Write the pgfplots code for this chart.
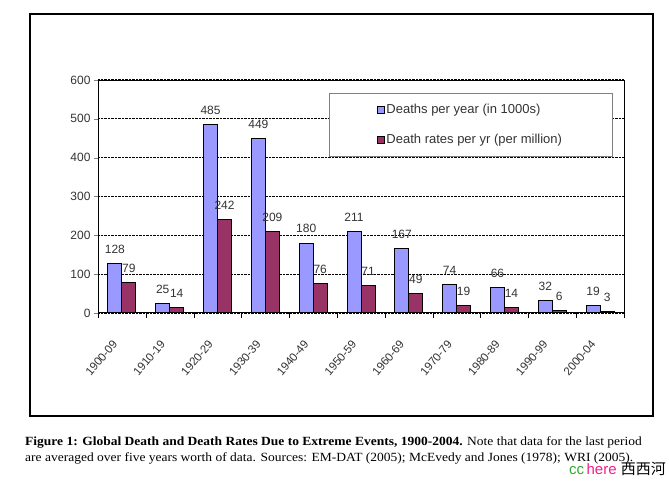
\documentclass[border=0pt]{standalone}
\usepackage{pgfplots}
\pgfplotsset{compat=1.18}
\usepackage{fontspec}
\setmainfont{Liberation Sans}
\newfontfamily\capfont[FakeStretch=1.08]{Liberation Serif}
\newfontfamily\cjk{Noto Sans CJK SC}
\definecolor{barblue}{HTML}{9999FF}
\definecolor{barred}{HTML}{993366}
\definecolor{txt}{HTML}{333333}
\begin{document}
\begin{tikzpicture}[x=1pt,y=1pt]
\useasboundingbox (0,0) rectangle (669,484);
\draw[line width=1.8pt] (30,470) rectangle (653,68);
\begin{axis}[
  at={(98pt,171pt)}, anchor=south west,
  scale only axis, width=526pt, height=233pt,
  ybar=0pt, bar width=14pt,
  xmin=-0.5, xmax=10.5, ymin=0, ymax=600,
  ytick={0,100,...,600},
  xtick={0,...,10},
  xticklabels={1900-09,1910-19,1920-29,1930-39,1940-49,1950-59,1960-69,1970-79,1980-89,1990-99,2000-04},
  minor xtick={-0.5,0.5,...,10.5},
  major x tick style={draw=none},
  minor x tick style={black},
  tick align=outside, major tick length=4pt, minor tick length=5pt,
  ytick pos=left, xtick pos=bottom,
  ymajorgrids, grid style={black, densely dotted, line width=1.2pt},
  axis line style={black, line width=1pt},
  ticklabel style={font=\fontsize{12}{14}\selectfont, text=txt},
  /pgf/number format/assume math mode=true,
  x tick label style={rotate=50, anchor=north east, font=\fontsize{11.5}{13}\selectfont, xshift=-20pt, yshift=-3pt},
  nodes near coords,
  every node near coord/.append style={font=\fontsize{12}{14}\selectfont, text=txt, inner sep=1.5pt, yshift=8pt},
  legend style={at={(0.978,0.944)}, anchor=north east, draw=gray, line width=0.8pt,
    font=\fontsize{13}{15}\selectfont, text=txt, inner xsep=48pt, inner ysep=9pt,
    row sep=15pt, legend cell align=left},
  legend image code/.code={\draw[#1, draw=black, line width=0.5pt] (0pt,-3.5pt) rectangle (7pt,3.5pt);},
]
\addplot[fill=barblue, draw=black, line width=1pt] coordinates {(0,128) (1,25) (2,485) (3,449) (4,180) (5,211) (6,167) (7,74) (8,66) (9,32) (10,19)};
\addplot[fill=barred, draw=black, line width=1pt] coordinates {(0,79) (1,14) (2,242) (3,209) (4,76) (5,71) (6,49) (7,19) (8,14) (9,6) (10,3)};
\legend{Deaths per year (in 1000s), Death rates per yr (per million)}
\end{axis}
\node[anchor=base west, inner sep=0pt, font=\capfont\fontsize{12.5}{14}\selectfont] at (25,38)
  {\textbf{Figure 1: Global Death and Death Rates Due to Extreme Events, 1900-2004.} Note that data for the last period};
\node[anchor=base west, inner sep=0pt, font=\capfont\fontsize{12.5}{14}\selectfont] at (25,22)
  {are averaged over five years worth of data. Sources: EM-DAT (2005); McEvedy and Jones (1978); WRI (2005).};
\node[anchor=base east, inner sep=0pt, font=\fontsize{15}{17}\selectfont] at (666,9)
  {\textcolor[HTML]{33AA33}{cc}\,\textcolor[HTML]{EE2288}{here}\ {\cjk 西西河}};
\end{tikzpicture}
\end{document}
